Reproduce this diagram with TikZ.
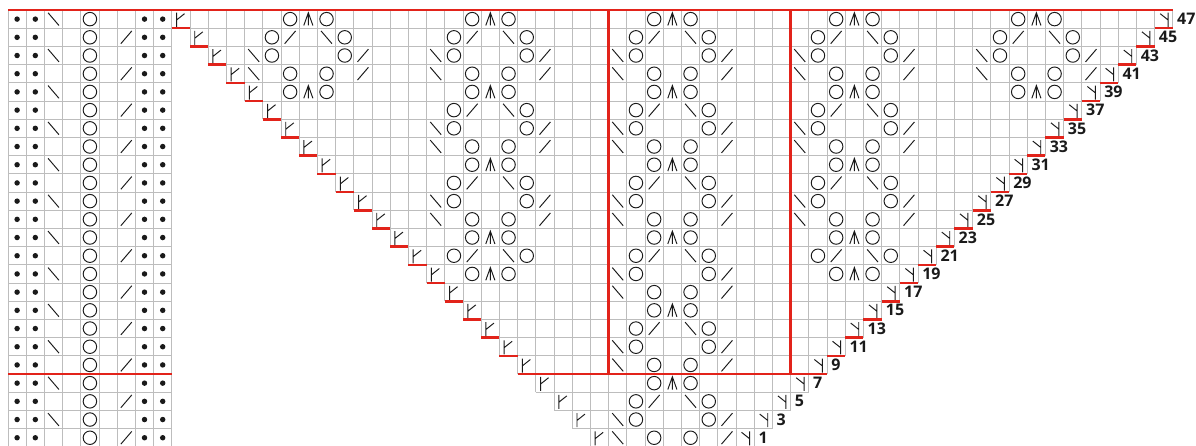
\documentclass[tikz,border=0pt]{standalone}
\usepackage{fontspec}
\setmainfont{Open Sans}
\usepackage{xcolor}
\definecolor{chartred}{HTML}{E2231A}
\definecolor{chartgrid}{HTML}{BDBDBD}
\definecolor{chartink}{HTML}{1A1A1A}

\begin{document}
\begin{tikzpicture}[
  x=5mm,y=5mm,
  cellgrid/.style={draw=chartgrid,line width=0.65pt},
  redrule/.style={draw=chartred,line width=2pt},
  ink/.style={draw=chartink,line width=0.75pt},
  rowlabel/.style={anchor=west,inner sep=0pt,font=\fontsize{12.5}{14}\selectfont\bfseries,text=chartink},
  purldot/.pic={\fill[chartink] (0.5,0.5) circle (0.15);},
  yarnover/.pic={\draw[ink] (0.5,0.5) circle (0.37);},
  ktog/.pic={\draw[ink] (0.2,0.15) -- (0.8,0.85);},
  sskdec/.pic={\draw[ink] (0.2,0.85) -- (0.8,0.15);},
  cdd/.pic={\draw[ink] (0.25,0.15) -- (0.5,0.85) -- (0.75,0.15) (0.5,0.85) -- (0.5,0.15);},
  incleft/.pic={\draw[ink] (0.26,0.08) -- (0.26,0.85) (0.26,0.45) -- (0.7,0.8);},
  incright/.pic={\draw[ink] (0.74,0.08) -- (0.74,0.85) (0.74,0.45) -- (0.3,0.8);}]
\useasboundingbox (-0.44,-23.9) rectangle (65.27,0.55);

% cells
\draw[cellgrid,step=1] (0,-24) grid (9,0);
\foreach \r in {0,...,23}
  \draw[cellgrid,step=1] ({9+\r},{-\r-1}) grid ({64-\r},{-\r});

% red rules
\draw[redrule] (0,0) -- (64,0);
\draw[redrule] (0,-20) -- (9,-20);
\draw[redrule] (28,-20) -- (45,-20);
\draw[redrule] (33,0) -- (33,-20) (43,0) -- (43,-20);
\foreach \r in {0,...,18}
  \draw[redrule] ({9+\r},{-\r-1}) -- ++(1,0) ({63-\r},{-\r-1}) -- ++(1,0);

% border panel
\foreach \r in {0,...,23} {
  \foreach \c in {0,1,7,8} \pic at (\c,{-\r-1}) {purldot};
  \pic at (4,{-\r-1}) {yarnover};
  \ifodd\r \pic at (6,{-\r-1}) {ktog}; \else \pic at (2,{-\r-1}) {sskdec}; \fi
}

% edge increases and row numbers
\foreach \r in {0,...,23} {
  \pic at ({9+\r},{-\r-1}) {incleft};
  \pic at ({63-\r},{-\r-1}) {incright};
  \pgfmathtruncatemacro\rownum{47-2*\r}
  \node[rowlabel] (row\rownum) at ({64.22-\r},{-\r-0.5}) {\rownum};
}

% lace motifs
\foreach \c in {16,26,36,46,56} {
  \pgfmathtruncatemacro\lastrow{min(\c-12,60-\c,23)}
  \foreach \r in {0,...,\lastrow} {
    \pgfmathtruncatemacro\ph{(\r==\c-12 || \r==60-\c) ? 0 : mod(\r,4)}
    \ifcase\ph
      \pic at ({\c-1},{-\r-1}) {yarnover}; \pic at (\c,{-\r-1}) {cdd};
      \pic at ({\c+1},{-\r-1}) {yarnover};
    \or
      \pic at ({\c-2},{-\r-1}) {yarnover}; \pic at ({\c-1},{-\r-1}) {ktog};
      \pic at ({\c+1},{-\r-1}) {sskdec}; \pic at ({\c+2},{-\r-1}) {yarnover};
    \or
      \pic at ({\c-3},{-\r-1}) {sskdec}; \pic at ({\c-2},{-\r-1}) {yarnover};
      \pic at ({\c+2},{-\r-1}) {yarnover}; \pic at ({\c+3},{-\r-1}) {ktog};
    \or
      \pic at ({\c-3},{-\r-1}) {sskdec}; \pic at ({\c-1},{-\r-1}) {yarnover};
      \pic at ({\c+1},{-\r-1}) {yarnover}; \pic at ({\c+3},{-\r-1}) {ktog};
    \fi
  }
}
\end{tikzpicture}
\end{document}
